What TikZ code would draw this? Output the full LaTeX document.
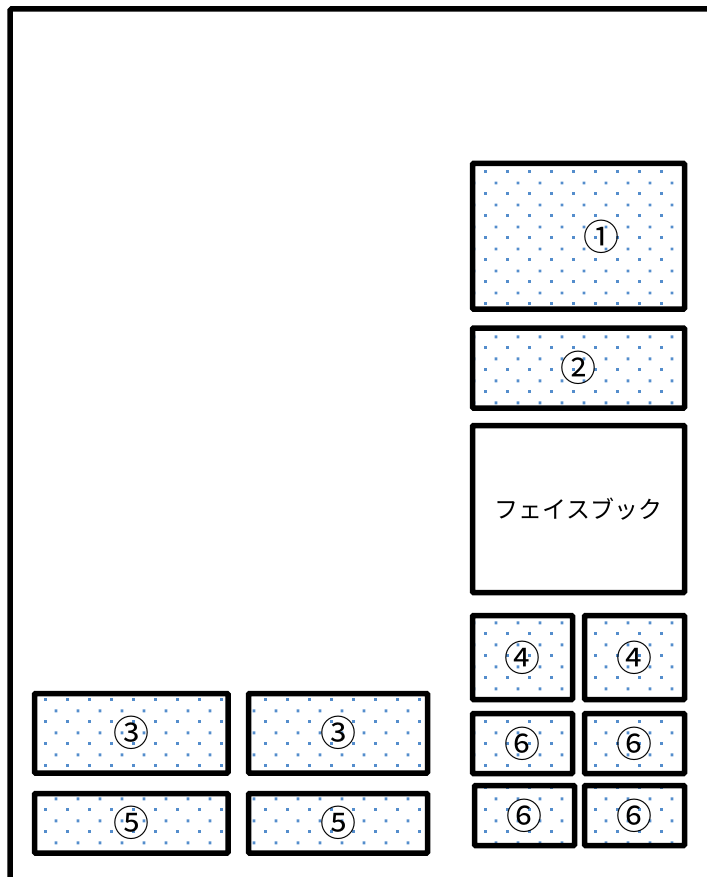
\documentclass[tikz,border=0pt]{standalone}
\usepackage{fontspec}
\newfontfamily\jpfont{Noto Sans CJK JP}
\usetikzlibrary{positioning,patterns.meta}
\definecolor{dotblue}{RGB}{84,141,204}
% staggered dot fill for the seats
\tikzdeclarepattern{
  name=seatdots,
  type=uncolored,
  bounding box={(0pt,0pt) and (22pt,22pt)},
  tile size={(22pt,22pt)},
  code={
    \fill (0pt,0pt) rectangle (3pt,3pt);
    \fill (11pt,11pt) rectangle (14pt,14pt);
  }
}
\tikzset{
  seat/.style  = {draw, line width=5.5pt, rounded corners=1pt, inner sep=0pt,
                  font=\jpfont\fontsize{36}{36}\selectfont,
                  pattern={seatdots}, pattern color=dotblue},
  empty/.style = {draw, line width=5.5pt, rounded corners=1pt, inner sep=0pt,
                  font=\jpfont\fontsize{24}{24}\selectfont},
  num/.style   = {inner sep=0pt, font=\jpfont\fontsize{36}{36}\selectfont},
  frame/.style = {line width=5.5pt, rounded corners=1.5pt}
}

\begin{document}
\begin{tikzpicture}[x=1pt,y=-1pt]
  \useasboundingbox (0,0) rectangle (706,877);
  \draw[frame] (10,900) -- (10,9) -- (730,9);

  % right column
  \node[seat, minimum width=212pt, minimum height=145.5pt] (b1) at (578.5,236.25) {};
  \node[num] (n1) at (601,237) {①};
  \node[seat, minimum width=212pt, minimum height=80pt]  (b2) at (578.5,368) {②};
  \node[empty, minimum width=212pt, minimum height=167pt] (fb) at (578.5,509) {フェイスブック};
  \node[seat, minimum width=100pt, minimum height=84pt] (b4a) at (522.5,657.5) {④};
  \node[seat, minimum width=100pt, minimum height=84pt] (b4b) at (634.5,657.5) {④};
  \node[seat, minimum width=100pt, minimum height=60pt] (b6a) at (522.5,743.5) {⑥};
  \node[seat, minimum width=100pt, minimum height=60pt] (b6b) at (634.5,743.5) {⑥};
  \node[seat, minimum width=100pt, minimum height=60pt] (b6c) at (524.5,815.5) {⑥};
  \node[seat, minimum width=100pt, minimum height=60pt] (b6d) at (634.5,815.5) {⑥};

  % bottom row
  \node[seat, minimum width=193.5pt, minimum height=79.5pt] (b3a) at (131.25,733.25) {③};
  \node[seat, minimum width=179pt, minimum height=79.5pt]   (b3b) at (338,733.25) {③};
  \node[seat, minimum width=193.5pt, minimum height=59.5pt] (b5a) at (131.25,823.25) {⑤};
  \node[seat, minimum width=179pt, minimum height=59.5pt]   (b5b) at (338,823.25) {⑤};
\end{tikzpicture}
\end{document}
